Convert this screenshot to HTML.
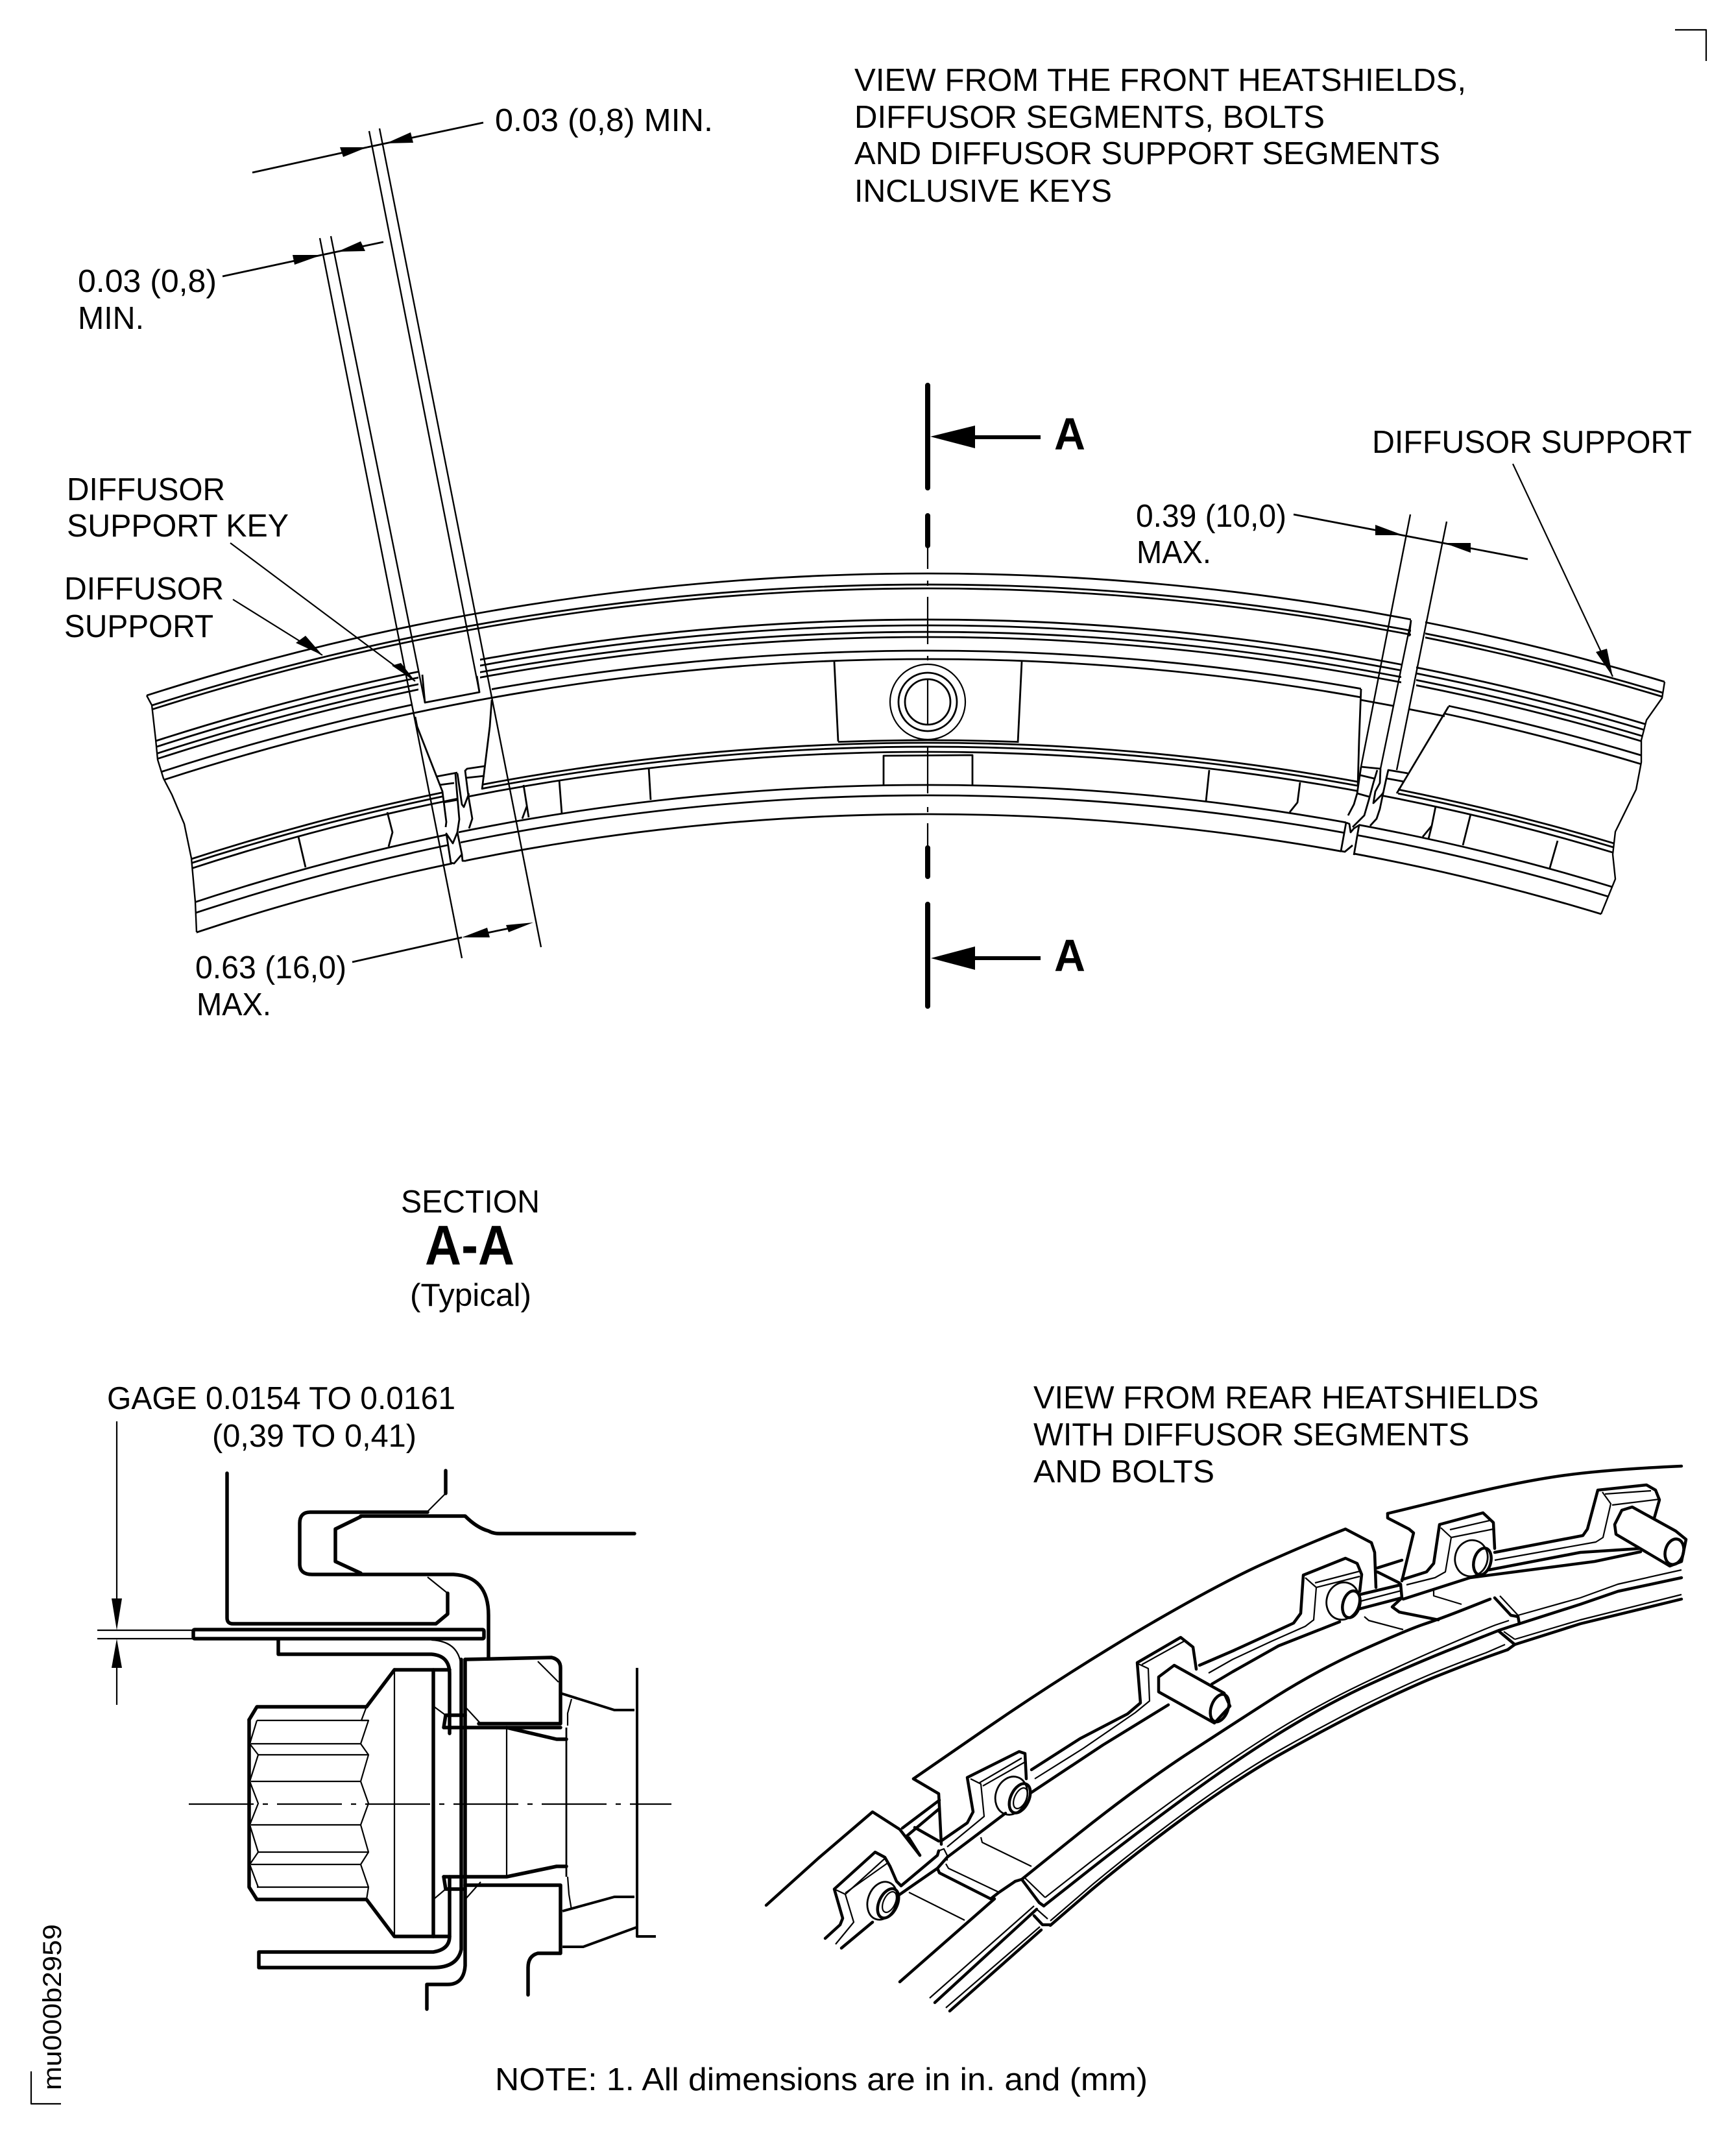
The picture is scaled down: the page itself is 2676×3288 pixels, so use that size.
<!DOCTYPE html>
<html><head><meta charset="utf-8"><style>
html,body{margin:0;padding:0;background:#fff;width:2676px;height:3288px;overflow:hidden}
svg{display:block;overflow:hidden}
text{font-family:"Liberation Sans",sans-serif;font-size:49px;fill:#000}
.b{font-weight:bold}
.a{fill:none;stroke:#000;stroke-width:2.8}
.l{fill:none;stroke:#000;stroke-width:2.4;stroke-linejoin:round}
.k{fill:none;stroke:#000;stroke-width:2.8;stroke-linejoin:round}
.m{fill:none;stroke:#000;stroke-width:4;stroke-linejoin:round}
.t{fill:none;stroke:#000;stroke-width:5.5;stroke-linejoin:round;stroke-linecap:round}
.n{fill:none;stroke:#000;stroke-width:2.2;stroke-linejoin:round}
.r{fill:none;stroke:#000;stroke-width:4.5;stroke-linejoin:round;stroke-linecap:round}
.s{fill:none;stroke:#000;stroke-width:8;stroke-linecap:round}
.f{fill:#000;stroke:none}
.w{fill:#fff}
</style></head><body>
<svg width="2676" height="3288" viewBox="0 0 2676 3288" xmlns="http://www.w3.org/2000/svg">
<defs>
<clipPath id="o"><polygon points="226,800 226,1072 234,1087 240,1140 243,1171 252,1200 265,1225 284,1270 295,1323 301,1390 303,1437 303,1500 2468,1500 2468,1409 2490,1355 2486,1317 2490,1282 2522,1217 2530,1175 2530,1141 2538,1110 2562,1076 2566,1051 2566,800"/></clipPath>
<clipPath id="cU"><rect x="0" y="700" width="2175" height="900"/><rect x="2197" y="700" width="479" height="900"/></clipPath>
<clipPath id="cM"><rect x="0" y="700" width="645" height="900"/><rect x="740" y="700" width="1420" height="900"/><rect x="2183" y="700" width="493" height="900"/></clipPath>
<clipPath id="c8"><rect x="0" y="700" width="636" height="900"/><rect x="758" y="700" width="1340" height="900"/><rect x="2233" y="700" width="443" height="900"/></clipPath>
<clipPath id="c9"><rect x="0" y="700" width="2098" height="900"/><rect x="2227" y="700" width="449" height="900"/></clipPath>
<clipPath id="cL"><rect x="0" y="700" width="682" height="900"/><rect x="743" y="700" width="1350" height="900"/><rect x="2155" y="700" width="500" height="900"/></clipPath>
<clipPath id="c12"><rect x="0" y="700" width="705" height="900"/><rect x="723" y="700" width="1369" height="900"/><rect x="2132" y="700" width="500" height="900"/></clipPath>
<clipPath id="c13"><rect x="0" y="700" width="690" height="900"/><rect x="707" y="700" width="1368" height="900"/><rect x="2095" y="700" width="500" height="900"/></clipPath>
<clipPath id="c14"><rect x="0" y="700" width="690" height="900"/><rect x="710" y="700" width="1363" height="900"/><rect x="2092" y="700" width="500" height="900"/></clipPath>
<clipPath id="c15"><rect x="0" y="700" width="697" height="900"/><rect x="718" y="700" width="1349" height="900"/><rect x="2087" y="700" width="500" height="900"/></clipPath>
<clipPath id="cB"><rect x="1292" y="1100" width="277" height="80"/></clipPath>
</defs>

<!-- corner marks -->
<polyline class="n" points="2582,46 2630,46 2630,94"/>
<polyline class="n" points="48,3193 48,3243 94,3243"/>

<!-- TOP VIEW arcs -->
<g clip-path="url(#o)">
<g clip-path="url(#cU)">
<path class="a" d="M220 1074A3948 3948 0 0 1 2640 1074"/>
<path class="a" d="M220 1091.9A3931 3931 0 0 1 2640 1091.9"/>
<path class="a" d="M220 1098.2A3925 3925 0 0 1 2640 1098.2"/></g>
<g clip-path="url(#cM)">
<path class="a" d="M220 1148.7A3877 3877 0 0 1 2640 1148.7"/>
<path class="a" d="M220 1158.1A3868 3868 0 0 1 2640 1158.1"/>
<path class="a" d="M220 1168.7A3858 3858 0 0 1 2640 1168.7"/>
<path class="a" d="M220 1177.1A3850 3850 0 0 1 2640 1177.1"/></g>
<g clip-path="url(#c8)"><path class="a" d="M220 1199.2A3829 3829 0 0 1 2640 1199.2"/></g>
<g clip-path="url(#c9)"><path class="a" d="M220 1212.9A3816 3816 0 0 1 2640 1212.9"/></g>
<g clip-path="url(#cL)">
<path class="a" d="M220 1349.2A3687 3687 0 0 1 2640 1349.2"/>
<path class="a" d="M220 1355.6A3681 3681 0 0 1 2640 1355.6"/></g>
<g clip-path="url(#c12)"><path class="a" d="M220 1364A3673 3673 0 0 1 2640 1364"/></g>
<g clip-path="url(#c13)"><path class="a" d="M220 1418.1A3622 3622 0 0 1 2640 1418.1"/></g>
<g clip-path="url(#c14)"><path class="a" d="M220 1435.1A3606 3606 0 0 1 2640 1435.1"/></g>
<g clip-path="url(#c15)"><path class="a" d="M220 1465.9A3577 3577 0 0 1 2640 1465.9"/></g>
</g>
<g clip-path="url(#cB)"><path class="a" d="M220 1345A3691 3691 0 0 1 2640 1345"/></g>
<polyline class="l" points="226,1072 234,1087 240,1140 243,1171 252,1200 265,1225 284,1270 295,1323 301,1390 303,1437"/>
<polyline class="l" points="2566,1051 2562,1076 2538,1110 2530,1141 2530,1175 2522,1217 2490,1282 2486,1317 2490,1355 2468,1409"/>

<!-- segment details -->
<polyline class="k" points="2098,1079 2147,1088"/><polyline class="k" points="2171,1093 2227,1104"/>
<polyline class="k" points="2175,956 2172,981"/>
<polyline class="k" points="2233,1089 2153,1223"/>
<polyline class="k" points="2098,1062 2095,1140 2093,1212"/>
<!-- center block -->
<polyline class="k" points="1286,1020 1292,1143"/><polyline class="k" points="1575,1020 1569,1145"/>
<circle class="n" cx="1430" cy="1082" r="58"/><circle class="k" cx="1430" cy="1082" r="45"/><circle class="k" cx="1430" cy="1082" r="35"/>
<polyline class="k" points="1362,1210 1362,1165 1499,1164 1499,1210"/>
<!-- lower cells -->
<polyline class="k" points="460,1290 471,1337"/>
<polyline class="k" points="597,1252 605,1283 599,1305"/>
<polyline class="k" points="807,1210 815,1260"/><polyline class="k" points="812,1243 805,1262"/>
<polyline class="k" points="862,1202 866,1254"/>
<polyline class="k" points="1000,1183 1003,1233"/>
<polyline class="k" points="1864,1187 1859,1235"/>
<polyline class="k" points="2004,1206 2000,1237 1988,1252"/>
<polyline class="k" points="2213,1243 2207,1273 2202,1293"/><polyline class="k" points="2207,1273 2193,1290"/>
<polyline class="k" points="2267,1255 2255,1303"/>
<polyline class="k" points="2401,1296 2389,1338"/>

<!-- left gap -->
<polyline class="k" points="651,1040 655,1083 739,1067 735,1042"/>
<polyline class="k" points="640,1105 643,1120 682,1220 688,1267 687,1275"/>
<polyline class="k" points="673,1197 705,1191"/><polyline class="k" points="677,1210 700,1207"/><polyline class="k" points="683,1237 705,1233"/>
<polyline class="k" points="702,1193 708,1263 705,1283 698,1300 688,1285 695,1330 700,1331 712,1317 713,1327 718,1327"/>
<polyline class="k" points="705,1283 712,1317"/>
<polyline class="k" points="705,1192 712,1240 715,1244 723,1223"/>
<polyline class="k" points="747,1181 720,1185 717,1188 722,1227 728,1262 723,1277"/>
<polyline class="k" points="719,1199 747,1196"/>
<polyline class="k" points="758,1079 755,1120 743,1217"/>

<!-- right gap -->
<polyline class="k" points="2098,1182 2092,1223 2087,1240 2078,1257"/>
<polyline class="k" points="2098,1182 2128,1185"/><polyline class="k" points="2097,1195 2118,1200"/><polyline class="k" points="2092,1223 2110,1228"/>
<polyline class="k" points="2123,1187 2117,1207 2110,1233 2103,1257 2092,1268 2085,1275"/>
<polyline class="k" points="2128,1185 2127,1207 2120,1220 2117,1238 2130,1225 2132,1222"/>
<polyline class="k" points="2170,1192 2140,1187 2137,1200 2132,1223 2127,1247 2122,1262 2112,1273"/>
<polyline class="k" points="2138,1200 2165,1205"/>
<polyline class="k" points="2075,1268 2080,1270 2082,1283 2087,1277 2095,1272 2087,1318"/>
<polyline class="k" points="2075,1268 2067,1312 2073,1313 2085,1303"/>

<!-- dimension lines -->
<line class="l" x1="493" y1="367" x2="712" y2="1477"/>
<line class="l" x1="510" y1="364" x2="655" y2="1083"/>
<line class="l" x1="569" y1="202" x2="739" y2="1067"/>
<line class="l" x1="585" y1="198" x2="834" y2="1460"/>
<line class="l" x1="2174" y1="793" x2="2098" y2="1182"/>
<line class="l" x1="2230" y1="804" x2="2153" y2="1187"/>
<line class="l" x1="2175" y1="957" x2="2128" y2="1185"/>

<!-- center line -->
<path class="n" d="M1430 843V877M1430 895V903M1430 920V993M1430 1011V1018M1430 1047V1118M1430 1152V1223M1430 1244V1252M1430 1269V1305"/>
<path class="s" d="M1430 594V752M1430 795V841M1430 1307V1351M1430 1394V1551"/>
<!-- section arrows -->
<line x1="1500" y1="674" x2="1604" y2="674" stroke="#000" stroke-width="6"/>
<polygon class="f" points="1434,673 1503,656 1503,691"/>
<line x1="1500" y1="1477" x2="1604" y2="1477" stroke="#000" stroke-width="6"/>
<polygon class="f" points="1435,1477 1503,1459 1503,1495"/>

<!-- dims arrows -->
<polyline class="k" points="389,266 566,227"/>
<polygon class="f" points="566,227 524,227 529,242"/>
<line class="k" x1="745" y1="189" x2="566" y2="227"/>
<polygon class="f" points="595,221 633,204 637,220"/>
<line class="k" x1="343" y1="426" x2="496" y2="393"/>
<polygon class="f" points="496,393 451,393 454,408"/>
<line class="k" x1="591" y1="373" x2="496" y2="393"/>
<polygon class="f" points="520,388 556,372 563,387"/>
<line class="k" x1="1994" y1="793" x2="2355" y2="862"/>
<polygon class="f" points="2163,825 2120,809 2120,825"/>
<polygon class="f" points="2226,837 2267,837 2267,852"/>
<line class="n" x1="359" y1="924" x2="497" y2="1010"/>
<polygon class="f" points="497,1010 456,991 471,980"/>
<line class="n" x1="355" y1="837" x2="640" y2="1050"/>
<polygon class="f" points="640,1050 604,1026 618,1022"/>
<line class="n" x1="2332" y1="715" x2="2486" y2="1043"/>
<polygon class="f" points="2486,1043 2460,1005 2477,1000"/>
<line class="k" x1="543" y1="1483" x2="712" y2="1445"/>
<polygon class="f" points="712,1445 751,1430 755,1445"/>
<line class="k" x1="751" y1="1438" x2="785" y2="1431"/>
<polygon class="f" points="822,1422 780,1426 784,1437"/>

<!-- SECTION view -->
<path class="t" d="M350 2271V2494Q350 2503 359 2503H672L690 2488V2456"/>
<polyline class="n" points="690,2456 659,2431"/>
<polyline class="t" points="687,2267 687,2302"/><polyline class="n" points="687,2302 659,2330"/>
<path class="t" d="M659 2331H478Q462 2331 462 2348V2411Q462 2427 481 2427H699Q753 2430 753 2490V2555"/>
<path class="t" d="M556 2337H717Q735 2355 753 2360Q760 2364 770 2364H978"/>
<polyline class="t" points="556,2338 517,2357 517,2407 556,2425"/>
<rect class="t" x="298" y="2512" width="448" height="14" rx="2"/>
<path class="n" d="M150 2513H298M150 2526H298"/>
<line class="n" x1="180" y1="2191" x2="180" y2="2466"/><polygon class="f" points="172,2464 188,2464 180,2513"/>
<line class="n" x1="180" y1="2570" x2="180" y2="2628"/><polygon class="f" points="172,2571 188,2571 180,2526"/>
<path class="t" d="M429 2528V2550H665Q693 2552 693 2580V2672"/>
<path class="n" d="M665 2528Q711 2530 711 2575"/>
<path class="t" d="M711 2558V3005Q705 3033 668 3033H399V3009H668Q693 3005 693 2985V2893"/>
<path class="t" d="M717 2558V3030Q715 3059 690 3059H658V3097"/>
<path class="t" d="M717 2558L850 2555Q864 2558 864 2571V2657H738"/>
<line class="n" x1="829" y1="2561" x2="861" y2="2593"/><line class="n" x1="717" y1="2631" x2="741" y2="2657"/>
<polyline class="t" points="608,2574 668,2574 693,2574"/>
<polyline class="t" points="384,2651 396,2631 565,2631 608,2574"/>
<polyline class="t" points="384,2651 384,2909 396,2928 565,2928 608,2985 693,2985"/>
<line class="n" x1="608" y1="2574" x2="608" y2="2985"/>
<line class="t" x1="668" y1="2574" x2="668" y2="2985"/>
<path class="n" d="M396 2652H568M387 2688H556M398 2705H568M387 2746H556M387 2813H556M398 2855H568M387 2874H556M396 2909H568"/>
<polyline class="n" points="396,2652 385,2688 398,2705 385,2746 398,2780 385,2813 398,2855 385,2874 398,2909"/>
<polyline class="n" points="565,2631 557,2652 568,2652 556,2688 568,2705 556,2746 568,2780 556,2813 568,2855 556,2874 568,2909 565,2928"/>
<path class="t" d="M687 2644H717M687 2644L684 2663H864"/>
<path class="n" d="M668 2630L687 2644"/>
<path class="t" d="M781 2663L858 2681H873"/>
<path class="t" d="M684 2893H781L858 2877H873"/>
<path class="t" d="M684 2893L687 2912H717M717 2906H864V3011H829Q814 3015 814 3033V3075"/>
<path class="n" d="M668 2928L687 2912"/>
<line class="n" x1="741" y1="2901" x2="717" y2="2928"/>
<line class="k" x1="873" y1="2663" x2="873" y2="2893"/>
<line class="n" x1="781" y1="2663" x2="781" y2="2893"/>
<polyline class="m" points="864,2610 947,2636 978,2636"/>
<polyline class="m" points="982,2571 982,2985 1011,2985"/>
<polyline class="n" points="881,2619 875,2641 875,2660"/>
<polyline class="m" points="867,2946 947,2924 978,2924"/>
<polyline class="m" points="867,3001 899,3001 981,2971"/>
<polyline class="n" points="875,2893 877,2920 881,2944"/>
<line x1="291" y1="2781" x2="1035" y2="2781" stroke="#000" stroke-width="2.2" stroke-dasharray="100 14 8 14"/>

<!-- REAR view -->
<g>
<!-- top segments -->
<path class="r" d="M2139 2333L2242 2308Q2346 2283 2413 2274Q2480 2265 2592 2260"/>
<polyline class="r" points="2139,2333 2139,2340 2172,2357 2179,2363 2161,2437"/>
<path class="r" d="M1408 2742L1518 2666Q1628 2590 1748 2518Q1868 2447 1944 2412Q2020 2378 2074 2357"/>
<polyline class="r" points="2074,2357 2114,2378 2119,2393 2121,2447"/>
<polyline class="r" points="1408,2742 1447,2765 1451,2843"/>
<polyline class="r" points="1181,2937 1262,2864 1345,2793 1387,2820 1418,2860"/>

<!-- lug A -->
<polyline class="r" points="1272,2988 1295,2967 1299,2957 1286,2912 1349,2855 1364,2863 1372,2877 1382,2900 1389,2907 1445,2860 1447,2853"/>
<polyline class="n" points="1288,2997 1316,2963 1303,2920 1366,2863"/>
<polyline class="n" points="1303,2918 1368,2872"/>
<polyline class="n" points="1286,2912 1303,2920"/>
<polyline class="r" points="1297,3003 1345,2963"/>
<polyline class="r" points="1383,2923 1445,2880 1460,2863 1550,2795"/>
<ellipse class="k" cx="1360" cy="2930" rx="22" ry="30" transform="rotate(20 1360 2930)"/>
<ellipse class="r" cx="1369" cy="2934" rx="14" ry="24" transform="rotate(25 1369 2934)"/>
<ellipse class="n" cx="1371" cy="2932" rx="9" ry="17" transform="rotate(25 1371 2932)"/>

<!-- junction 1 -->
<polyline class="r" points="1391,2818 1448,2775"/><polyline class="r" points="1398,2830 1448,2788"/>
<polyline class="r" points="1410,2817 1447,2838"/><polyline class="r" points="1401,2833 1418,2860"/>
<polyline class="n" points="1447,2853 1455,2850 1460,2860 1460,2868"/>
<polyline class="r" points="1445,2880 1448,2887 1527,2927 1540,2917 1565,2900"/>
<polyline class="n" points="1458,2873 1462,2880 1538,2916"/>
<polyline class="n" points="1401,2917 1487,2960"/>
<polyline class="n" points="1512,2832 1514,2840 1590,2877"/>

<!-- lug B -->
<polyline class="r" points="1452,2837 1491,2810 1500,2793 1491,2740 1571,2700 1580,2703 1582,2742"/>
<polyline class="n" points="1496,2742 1512,2750 1517,2800 1460,2847"/>
<polyline class="n" points="1510,2748 1575,2710"/><polyline class="n" points="1515,2753 1582,2715"/>
<ellipse class="k" cx="1559" cy="2768" rx="24" ry="30" transform="rotate(20 1559 2768)"/>
<ellipse class="r" cx="1572" cy="2772" rx="14" ry="24" transform="rotate(25 1572 2772)"/>
<ellipse class="n" cx="1573" cy="2772" rx="9" ry="17" transform="rotate(25 1573 2772)"/>
<polyline class="r" points="1590,2728 1665,2680 1738,2642 1758,2625 1753,2563 1820,2524 1839,2539 1844,2573"/>
<polyline class="n" points="1595,2742 1670,2695 1750,2640 1772,2622 1770,2572 1755,2565"/>
<polyline class="n" points="1760,2566 1825,2530"/>
<polyline class="r" points="1590,2763 1700,2690 1801,2628"/>

<!-- lug C with bolt -->
<polygon class="r w" points="1810,2567 1887,2610 1896,2630 1872,2656 1786,2608 1786,2585"/>
<ellipse class="r" cx="1880" cy="2633" rx="13" ry="22" transform="rotate(20 1880 2633)"/>
<polyline class="r" points="1849,2567 1900,2545 1994,2502 2005,2487 2009,2428 2074,2402 2092,2410 2099,2427 2096,2453"/>
<polyline class="n" points="1863,2579 1900,2558 1960,2530 2012,2507 2025,2497 2029,2447 2012,2432"/>
<polyline class="r" points="1868,2596 1900,2577 1971,2537 2065,2500"/>

<!-- lug D -->
<polyline class="n" points="2027,2440 2096,2422"/><polyline class="n" points="2029,2447 2096,2430"/>
<ellipse class="k" cx="2070" cy="2468" rx="25" ry="29" transform="rotate(15 2070 2468)"/>
<ellipse class="r" cx="2083" cy="2473" rx="13" ry="21" transform="rotate(15 2083 2473)"/>
<polyline class="r" points="2096,2458 2159,2443"/><polyline class="r" points="2096,2480 2161,2463"/>
<polyline class="n" points="2098,2468 2160,2452"/>
<polyline class="r" points="2159,2442 2161,2463 2146,2477 2157,2485 2217,2497"/>
<polyline class="r" points="2123,2417 2161,2405"/><polyline class="r" points="2123,2423 2157,2440"/>
<polyline class="n" points="2103,2492 2110,2498 2163,2512"/>
<polyline class="n" points="2210,2450 2210,2460 2253,2473"/>

<!-- lug E -->
<polyline class="r" points="2161,2435 2199,2423 2210,2410 2219,2350 2286,2332 2302,2347 2304,2387"/>
<polyline class="n" points="2221,2355 2237,2370 2228,2423 2212,2432 2168,2443"/>
<polyline class="n" points="2235,2358 2300,2343"/><polyline class="n" points="2237,2370 2302,2357"/>
<ellipse class="k" cx="2268" cy="2402" rx="25" ry="28" transform="rotate(15 2268 2402)"/>
<ellipse class="r" cx="2285" cy="2407" rx="13" ry="21" transform="rotate(15 2285 2407)"/>
<polyline class="r" points="2304,2393 2440,2367 2447,2357 2463,2297 2538,2289 2552,2297 2558,2312 2550,2340"/>
<polyline class="n" points="2304,2405 2460,2377 2471,2370 2483,2318 2470,2300"/>
<polyline class="n" points="2474,2303 2545,2298"/><polyline class="n" points="2485,2320 2558,2311"/>
<polyline class="r" points="2295,2420 2436,2393 2529,2387"/>
<polyline class="r" points="2163,2465 2266,2432 2458,2407 2529,2392"/>

<!-- lug F bolt -->
<polygon class="r w" points="2516,2323 2583,2360 2599,2373 2592,2407 2574,2414 2491,2365 2489,2350 2500,2328"/>
<ellipse class="r" cx="2581" cy="2392" rx="14" ry="20" transform="rotate(15 2581 2392)"/>

<!-- main arc -->
<polyline class="r" points="1387,3055 1533,2927"/>
<path class="r" d="M1575 2897L1662 2827Q1750 2757 1825 2707Q1900 2658 1967 2615Q2034 2573 2101 2543Q2168 2513 2194 2504Q2221 2495 2259 2480L2297 2465"/>

<!-- lower rails -->
<path class="r" d="M1609 2938L1680 2882Q1750 2827 1825 2772Q1900 2717 1967 2675Q2034 2633 2101 2601Q2168 2570 2230 2545Q2293 2520 2311 2513L2329 2507"/>
<path class="n" d="M1611 2925L1680 2871Q1750 2817 1825 2763Q1900 2710 1967 2668Q2034 2627 2101 2595Q2168 2563 2226 2538Q2284 2513 2305 2505L2326 2498"/>
<path class="r" d="M1619 2968L1684 2912Q1750 2857 1825 2802Q1900 2747 1967 2708Q2034 2670 2101 2636Q2168 2603 2212 2585Q2257 2567 2290 2555L2324 2543"/>
<path class="n" d="M1619 2961L1684 2905Q1750 2850 1825 2795Q1900 2740 1967 2701Q2034 2663 2101 2629Q2168 2596 2212 2578Q2257 2560 2290 2548L2320 2535"/>
<polyline class="r" points="1441,3087 1598,2943"/><polyline class="n" points="1433,3080 1594,2938"/>
<polyline class="r" points="1464,3100 1605,2975"/><polyline class="n" points="1458,3095 1603,2970"/>
<!-- break 1 -->
<polyline class="r" points="1565,2900 1575,2897 1602,2933 1609,2938"/>
<polyline class="n" points="1578,2893 1611,2925"/>
<polyline class="r" points="1594,2953 1607,2967 1619,2967"/>
<polyline class="n" points="1598,2943 1615,2958"/>
<!-- break 2 -->
<polyline class="r" points="2304,2463 2329,2490 2340,2492 2342,2503 2329,2507"/>
<polyline class="n" points="2312,2460 2340,2490"/>
<polyline class="r" points="2311,2515 2335,2535 2324,2543"/>
<polyline class="n" points="2318,2515 2335,2527"/>
<polyline class="r" points="2342,2503 2436,2473 2494,2453 2592,2432"/>
<polyline class="n" points="2340,2490 2436,2463 2494,2442 2592,2420"/>
<polyline class="r" points="2335,2535 2436,2503 2592,2465"/>
<polyline class="n" points="2335,2527 2436,2497 2592,2458"/>
</g>

<!-- TEXT -->
<text x="1317" y="140" textLength="943" lengthAdjust="spacingAndGlyphs">VIEW FROM THE FRONT HEATSHIELDS,</text>
<text x="1317" y="197" textLength="725" lengthAdjust="spacingAndGlyphs">DIFFUSOR SEGMENTS, BOLTS</text>
<text x="1317" y="253" textLength="903" lengthAdjust="spacingAndGlyphs">AND DIFFUSOR SUPPORT SEGMENTS</text>
<text x="1317" y="311" textLength="397" lengthAdjust="spacingAndGlyphs">INCLUSIVE KEYS</text>
<text x="763" y="202" textLength="336" lengthAdjust="spacingAndGlyphs">0.03 (0,8) MIN.</text>
<text x="120" y="450" textLength="214" lengthAdjust="spacingAndGlyphs">0.03 (0,8)</text>
<text x="120" y="507" textLength="102" lengthAdjust="spacingAndGlyphs">MIN.</text>
<text class="b" x="1625" y="693" style="font-size:70px" textLength="48" lengthAdjust="spacingAndGlyphs">A</text>
<text class="b" x="1625" y="1497" style="font-size:70px" textLength="48" lengthAdjust="spacingAndGlyphs">A</text>
<text x="2115" y="698" textLength="493" lengthAdjust="spacingAndGlyphs">DIFFUSOR SUPPORT</text>
<text x="103" y="771" textLength="244" lengthAdjust="spacingAndGlyphs">DIFFUSOR</text>
<text x="103" y="827" textLength="342" lengthAdjust="spacingAndGlyphs">SUPPORT KEY</text>
<text x="1751" y="812" textLength="232" lengthAdjust="spacingAndGlyphs">0.39 (10,0)</text>
<text x="1752" y="868" textLength="115" lengthAdjust="spacingAndGlyphs">MAX.</text>
<text x="99" y="924" textLength="246" lengthAdjust="spacingAndGlyphs">DIFFUSOR</text>
<text x="99" y="982" textLength="230" lengthAdjust="spacingAndGlyphs">SUPPORT</text>
<text x="301" y="1508" textLength="233" lengthAdjust="spacingAndGlyphs">0.63 (16,0)</text>
<text x="303" y="1565" textLength="115" lengthAdjust="spacingAndGlyphs">MAX.</text>
<text x="618" y="1869" textLength="214" lengthAdjust="spacingAndGlyphs">SECTION</text>
<text class="b" x="655" y="1949" style="font-size:86px" textLength="138" lengthAdjust="spacingAndGlyphs">A-A</text>
<text x="632" y="2013" textLength="187" lengthAdjust="spacingAndGlyphs">(Typical)</text>
<text x="165" y="2172" textLength="537" lengthAdjust="spacingAndGlyphs">GAGE 0.0154 TO 0.0161</text>
<text x="327" y="2230" textLength="315" lengthAdjust="spacingAndGlyphs">(0,39 TO 0,41)</text>
<text x="1593" y="2171" textLength="779" lengthAdjust="spacingAndGlyphs">VIEW FROM REAR HEATSHIELDS</text>
<text x="1593" y="2228" textLength="672" lengthAdjust="spacingAndGlyphs">WITH DIFFUSOR SEGMENTS</text>
<text x="1593" y="2285" textLength="279" lengthAdjust="spacingAndGlyphs">AND BOLTS</text>
<text x="763" y="3222" textLength="1006" lengthAdjust="spacingAndGlyphs">NOTE: 1. All dimensions are in in. and (mm)</text>
<text x="94" y="3222" transform="rotate(-90 94 3222)" style="font-size:40px" textLength="256" lengthAdjust="spacingAndGlyphs">mu000b2959</text>
</svg>
</body></html>
